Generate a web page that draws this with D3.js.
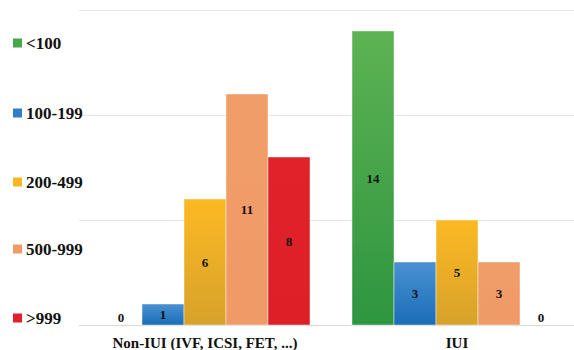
<!DOCTYPE html>
<html>
<head>
<meta charset="utf-8">
<script src="https://cdn.jsdelivr.net/npm/d3@7/dist/d3.min.js"></script>
<style>
  html, body { margin: 0; padding: 0; background: #fff; }
  svg { display: block; }
</style>
</head>
<body>
<svg id="chart" width="574" height="350"></svg>
<script>
const categories = ["Non-IUI (IVF, ICSI, FET, ...)", "IUI"];
const seriesNames = ["<100", "100-199", "200-499", "500-999", ">999"];
const values = {
  "<100":    [0, 14],
  "100-199": [1, 3],
  "200-499": [6, 5],
  "500-999": [11, 3],
  ">999":    [8, 0]
};
const yTicks = [0, 5, 10, 15];

const colorTop =    {"<100": "#5db352", "100-199": "#4b91d2", "200-499": "#fcb922", "500-999": "#f19d6a", ">999": "#e0232b"};
const colorBottom = {"<100": "#2e9540", "100-199": "#1a6db7", "200-499": "#d7a22b", "500-999": "#f09a66", ">999": "#dd1f28"};
const legendColor = {"<100": "#46a84b", "100-199": "#2f80c8", "200-499": "#fbb620", "500-999": "#f19c68", ">999": "#e0202a"};

const FONT = "'Liberation Serif', 'Times New Roman', Times, serif";

const svg = d3.select("#chart");
const plotLeft = 79, plotRight = 574, baseY = 325, topY = 10;

const y = d3.scaleLinear().domain([0, 15]).range([baseY, topY]);
const x0 = d3.scaleBand().domain(categories).range([79, 583]).paddingInner(1/6).paddingOuter(1/12);
const x1 = d3.scaleBand().domain(seriesNames).range([0, x0.bandwidth()]).padding(0);

const defs = svg.append("defs");
seriesNames.forEach((s, i) => {
  const g = defs.append("linearGradient").attr("id", "grad" + i)
    .attr("x1", 0).attr("y1", 0).attr("x2", 0).attr("y2", 1);
  g.append("stop").attr("offset", "0%").attr("stop-color", colorTop[s]);
  g.append("stop").attr("offset", "100%").attr("stop-color", colorBottom[s]);
});

// gridlines
svg.append("g").selectAll("line").data(yTicks).join("line")
  .attr("x1", plotLeft).attr("x2", plotRight)
  .attr("y1", d => Math.round(y(d)) + 0.5).attr("y2", d => Math.round(y(d)) + 0.5)
  .attr("stroke", d => d === 0 ? "#d9d9d9" : "#e6e6e6").attr("stroke-width", 1);

// bars
const groups = svg.append("g").selectAll("g").data(categories).join("g")
  .attr("transform", d => `translate(${x0(d)},0)`);

groups.each(function(cat, ci) {
  const g = d3.select(this);
  seriesNames.forEach((s, si) => {
    const v = values[s][ci];
    if (v > 0) {
      g.append("rect")
        .attr("x", x1(s)).attr("width", x1.bandwidth())
        .attr("y", y(v)).attr("height", y(0) - y(v))
        .attr("fill", `url(#grad${si})`)
        .attr("stroke", "rgba(255,255,255,0.55)").attr("stroke-width", 0.8);
    }
    const cy = Math.min((y(v) + y(0)) / 2, baseY - 8);
    g.append("text")
      .attr("x", x1(s) + x1.bandwidth() / 2).attr("y", cy)
      .attr("text-anchor", "middle").attr("dominant-baseline", "central")
      .attr("font-family", FONT).attr("font-weight", "bold").attr("fill", "#111")
      .attr("font-size", 13).text(v);
  });
});

// category labels
svg.append("g").selectAll("text").data(categories).join("text")
  .attr("x", d => x0(d) + x0.bandwidth() / 2).attr("y", 343)
  .attr("text-anchor", "middle").attr("dominant-baseline", "central")
  .attr("font-family", FONT).attr("font-weight", "bold").attr("fill", "#111")
  .attr("font-size", 15).text(d => d);

// legend
const legendY = [43, 113, 182, 249, 318];
const lg = svg.append("g").selectAll("g").data(seriesNames).join("g")
  .attr("transform", (d, i) => `translate(13,${legendY[i]})`);
lg.append("rect").attr("x", 0).attr("y", -4.5).attr("width", 9).attr("height", 9)
  .attr("fill", d => legendColor[d]);
lg.append("text").attr("x", 13).attr("y", 0).attr("dominant-baseline", "central")
  .attr("font-family", FONT).attr("font-weight", "bold").attr("fill", "#111")
  .attr("font-size", 17).text(d => d);
</script>
</body>
</html>
